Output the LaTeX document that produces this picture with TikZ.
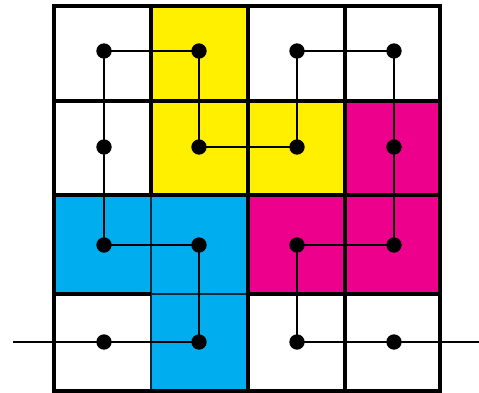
\documentclass[tikz,border=0pt]{standalone}
\definecolor{cyellow}{HTML}{FFF000}
\definecolor{cmag}{HTML}{EC008C}
\definecolor{ccyan}{HTML}{00AEEF}
\definecolor{cdark}{HTML}{0A2A3A}
\begin{document}
\begin{tikzpicture}[x=0.75pt,y=-0.75pt,
  dot/.style={circle,fill=black,inner sep=0pt,minimum size=11.5pt},
  grid/.style={line width=2.4pt},
  thingrid/.style={line width=1pt,draw=cdark},
  link/.style={line width=1.5pt}]
\useasboundingbox (0,0) rectangle (479,393);
% fills
\fill[cyellow] (151,6) rectangle (248,195);
\fill[cyellow] (248,101) rectangle (345,195);
\fill[cmag] (345,101) rectangle (440,294);
\fill[cmag] (248,195) rectangle (345,294);
\fill[ccyan] (54,195) rectangle (248,294);
\fill[ccyan] (151,294) rectangle (248,391);
% thin internal cyan lines
\draw[thingrid] (151,195) -- (151,391);
\draw[thingrid] (151,294) -- (248,294);
% grid thick lines
\draw[grid] (54,6) rectangle (440,391);
\draw[grid] (151,6) -- (151,195);
\draw[grid] (248,6) -- (248,391);
\draw[grid] (345,6) -- (345,391);
\draw[grid] (54,101) -- (440,101);
\draw[grid] (54,195) -- (440,195);
\draw[grid] (54,294) -- (151,294);
\draw[grid] (248,294) -- (440,294);
% dots
\node[dot] (a) at (104,342) {};
\node[dot] (b) at (199,342) {};
\node[dot] (c) at (199,245) {};
\node[dot] (d) at (104,245) {};
\node[dot] (e) at (104,147) {};
\node[dot] (f) at (104,51) {};
\node[dot] (g) at (199,51) {};
\node[dot] (h) at (199,147) {};
\node[dot] (i) at (297,147) {};
\node[dot] (j) at (297,51) {};
\node[dot] (k) at (394,51) {};
\node[dot] (l) at (394,147) {};
\node[dot] (m) at (394,245) {};
\node[dot] (n) at (297,245) {};
\node[dot] (o) at (297,342) {};
\node[dot] (p) at (394,342) {};
\coordinate (s) at (13,342);
\coordinate (t) at (479,342);
\draw[link] (s) -- (a.center) -- (b.center) -- (c.center) -- (d.center) -- (e.center) -- (f.center) -- (g.center) -- (h.center) -- (i.center) -- (j.center) -- (k.center) -- (l.center) -- (m.center) -- (n.center) -- (o.center) -- (p.center) -- (t);
\end{tikzpicture}
\end{document}
